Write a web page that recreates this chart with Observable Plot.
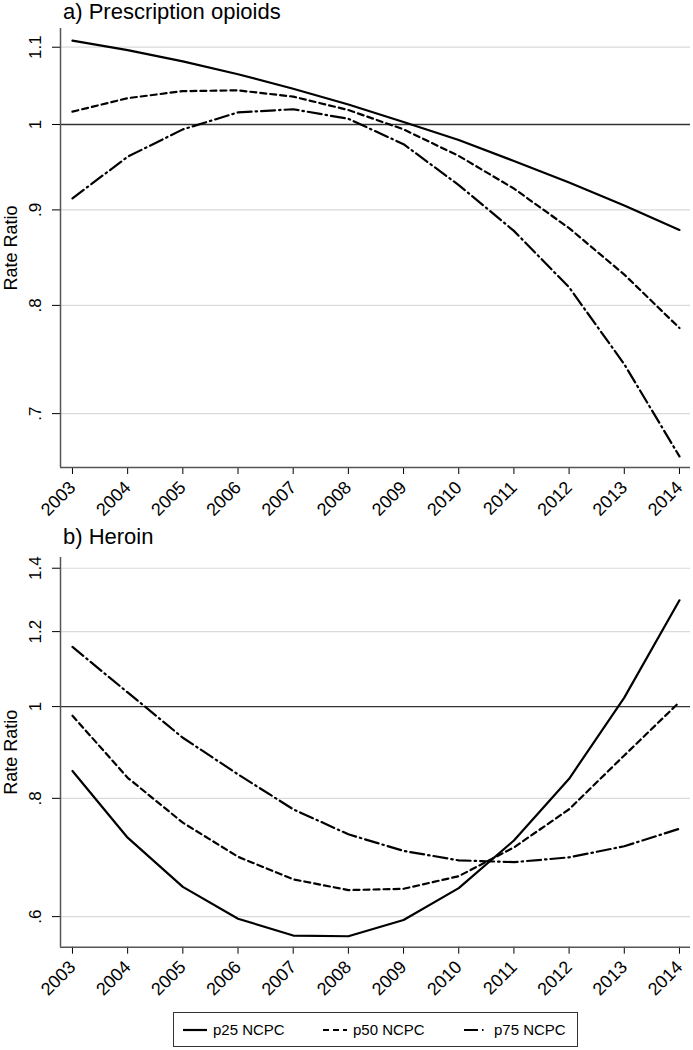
<!DOCTYPE html>
<html><head><meta charset="utf-8">
<script src="https://cdn.jsdelivr.net/npm/d3@7"></script>
<script src="https://cdn.jsdelivr.net/npm/@observablehq/plot@0.6"></script>
<style>
body{margin:0;background:#fff;}
#root{position:relative;width:693px;height:1050px;font-family:"Liberation Sans",Arial,Helvetica,sans-serif;color:#000;background:#fff;overflow:hidden;}
.title{position:absolute;font-size:22px;line-height:22px;white-space:nowrap;}
.panel{position:absolute;left:0;width:693px;}
#legend{position:absolute;left:173px;top:1012px;width:403px;height:33px;border:1px solid #333;}
</style></head><body>
<div id="root">
  <div class="panel" id="p1" style="top:0px"></div>
  <div class="panel" id="p2" style="top:520px"></div>
  <div class="title" style="left:63px;top:1px">a) Prescription opioids</div>
  <div class="title" style="left:63px;top:526px">b) Heroin</div>
  <div id="legend"></div>
</div>
<script>
const years = [2003,2004,2005,2006,2007,2008,2009,2010,2011,2012,2013,2014];
const seriesNames = ["p25 NCPC","p50 NCPC","p75 NCPC"];
const opioidP25 = [1.109,1.096,1.081,1.064,1.045,1.025,1.003,0.981,0.956,0.931,0.905,0.878];
const opioidP50 = [1.016,1.033,1.042,1.043,1.035,1.018,0.994,0.962,0.924,0.880,0.831,0.778];
const opioidP75 = [0.913,0.961,0.994,1.015,1.019,1.007,0.976,0.928,0.877,0.818,0.744,0.664];
const heroinP25 = [0.855,0.727,0.645,0.597,0.573,0.572,0.595,0.643,0.722,0.839,1.022,1.295];
const heroinP50 = [0.978,0.841,0.754,0.694,0.657,0.640,0.642,0.662,0.710,0.779,0.888,1.011];
const heroinP75 = [1.156,1.035,0.927,0.848,0.779,0.733,0.704,0.688,0.685,0.693,0.712,0.743];
const opioidTicks = [0.7,0.8,0.9,1,1.1];
const heroinTicks = [0.6,0.8,1,1.2,1.4];
const yLabel = "Rate Ratio";

const dashes = [null, "6,4", "14,4,1.5,4"];
const fmt = d => String(d).replace(/^0\./, ".");
const xDomain = [2002.783, 2014.2];
const FONT = '"Liberation Sans",Arial,Helvetica,sans-serif';

function panel(h, plotTop, axisPos, yDomain, yTicks, vals) {
  const lines = vals.map((v, i) => Plot.line(years.map((yr, j) => ({year: yr, value: v[j]})), {
    x: "year", y: "value", stroke: "#000", strokeWidth: 2.2,
    strokeDasharray: dashes[i] || undefined, strokeLinejoin: "round"
  }));
  return Plot.plot({
    width: 693, height: h,
    marginTop: plotTop, marginBottom: h - axisPos, marginLeft: 60, marginRight: 3,
    style: {fontFamily: FONT, fontSize: "16px", background: "#fff", color: "#000", overflow: "visible"},
    x: {domain: xDomain},
    y: {type: "log", domain: yDomain},
    marks: [
      Plot.gridY(yTicks.filter(d => d !== 1), {stroke: "#dadada", strokeOpacity: 1, strokeWidth: 1.2}),
      Plot.ruleY([1], {stroke: "#333", strokeWidth: 1.4}),
      Plot.axisX(years, {tickFormat: d => String(d), tickRotate: -45, tickSize: 7, tickPadding: 10, fontSize: 18, label: null}),
      Plot.axisY(yTicks, {tickFormat: fmt, tickRotate: -90, tickSize: 8, tickPadding: 12, fontSize: 17, label: null}),
      Plot.ruleX([xDomain[0]], {stroke: "#555", strokeWidth: 1.5}),
      Plot.ruleY([yDomain[0]], {stroke: "#555", strokeWidth: 1.5}),
      ...lines,
      Plot.text([yLabel], {frameAnchor: "left", rotate: -90, dx: -49, textAnchor: "middle", fontSize: 18})
    ]
  });
}

document.getElementById("p1").append(panel(520, 28, 467, [0.655, 1.1257], opioidTicks, [opioidP25, opioidP50, opioidP75]));
document.getElementById("p2").append(panel(480, 37, 426.7, [0.557, 1.437], heroinTicks, [heroinP25, heroinP50, heroinP75]));

// legend
const lg = d3.select("#legend").append("svg").attr("width", 403).attr("height", 33);
const pos = [[9, 39], [149, 179], [290, 320]];
seriesNames.forEach((name, i) => {
  const [x0, tx] = pos[i];
  lg.append("line").attr("x1", x0).attr("x2", x0 + (i === 2 ? 20 : 24)).attr("y1", 17).attr("y2", 17)
    .attr("stroke", "#000").attr("stroke-width", 2.2).attr("stroke-dasharray", dashes[i]);
  lg.append("text").attr("x", tx).attr("y", 22).attr("font-size", 15)
    .attr("font-family", FONT).text(name);
});
</script>
</body></html>
